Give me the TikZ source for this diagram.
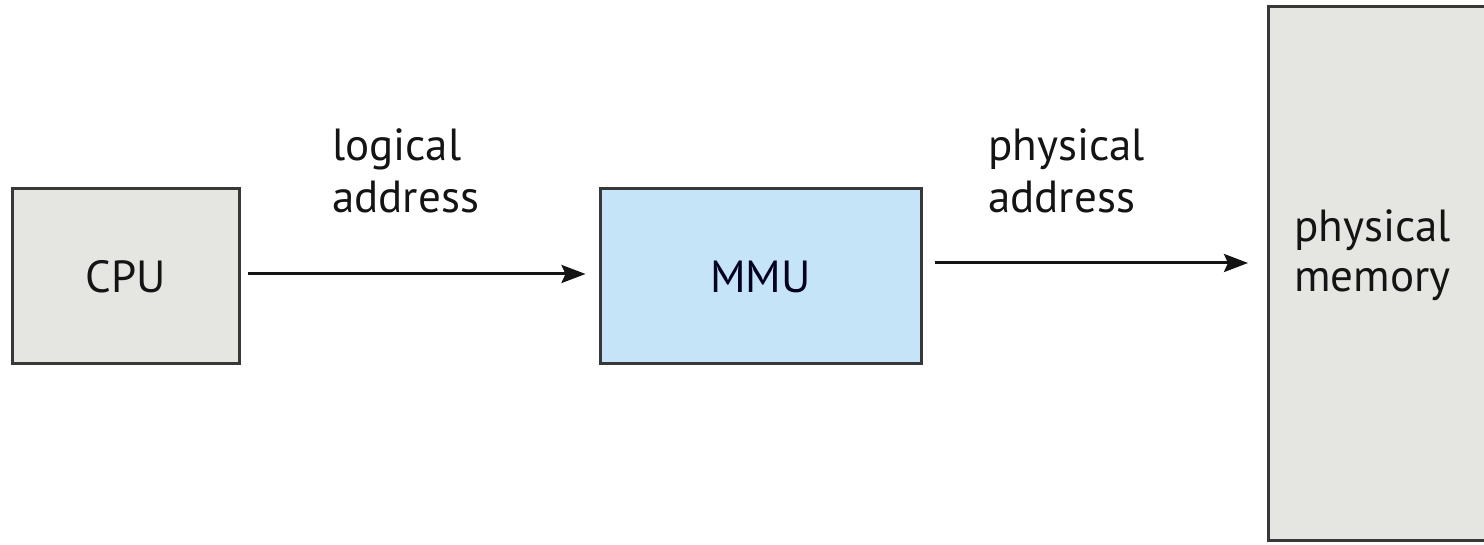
\documentclass[tikz,border=0pt]{standalone}
\usepackage{fontspec}
\setmainfont{PT Sans}
\usetikzlibrary{arrows.meta}
\definecolor{boxgray}{HTML}{E5E5E2}
\definecolor{mmublue}{HTML}{C6E4F7}
\definecolor{edge}{HTML}{383838}
\definecolor{txt}{HTML}{141414}
\tikzset{
  box/.style={draw=edge, line width=3pt, inner sep=0pt, text=txt,
    font=\fontsize{45}{53}\selectfont},
  lbl/.style={inner sep=0pt, align=left, text=txt, anchor=base west,
    font=\fontsize{45}{52}\selectfont},
  arr/.style={line width=3pt, draw=txt,
    -{Stealth[length=24pt,width=18pt,inset=4pt]}}
}
\begin{document}
\begin{tikzpicture}[x=1pt,y=1pt]
\useasboundingbox (0,0) rectangle (1484,545);
\fill[white] (0,0) rectangle (1484,545);
\node[box, fill=boxgray, minimum width=227pt, minimum height=175pt] (cpu) at (125.5,268.5) {CPU};
\node[box, fill=mmublue, minimum width=321pt, minimum height=175pt, text=black!80!blue!60!black] (mmu) at (760.5,268.5) {MMU};
\node[box, fill=boxgray, minimum width=260pt, minimum height=534pt, anchor=north west, outer sep=0pt] (mem) at (1268,538) {};
\node[lbl, font=\fontsize{45}{50}\selectfont] (memlbl) at (1294,253) {physical\\memory};
\node[lbl] (lbl1) at (332,332) {logical\\address};
\node[lbl] (lbl2) at (988,332) {physical\\address};
\coordinate (a2s) at ([xshift=12pt,yshift=13.5pt]mmu.east);
\draw[arr] ([xshift=7pt,yshift=2.5pt]cpu.east) -- ([xshift=-13pt,yshift=2.5pt]mmu.west);
\draw[arr] (a2s) -- ([xshift=-20pt]mem.west |- a2s);
\end{tikzpicture}
\end{document}
